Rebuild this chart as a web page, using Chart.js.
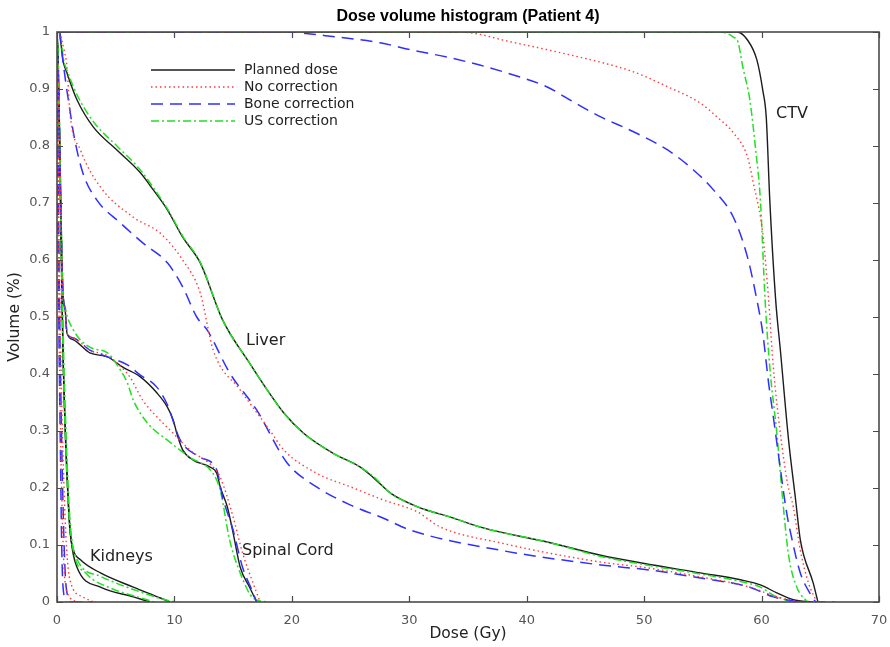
<!DOCTYPE html>
<html>
<head>
<meta charset="utf-8">
<title>Dose volume histogram (Patient 4)</title>
<script src="https://cdn.jsdelivr.net/npm/chart.js@4"></script>
<style>
  html, body { margin: 0; padding: 0; background: #fff; }
  canvas { display: block; }
</style>
</head>
<body>
<canvas id="dvh" width="890" height="647"></canvas>
<script>
// Dose volume histogram, patient 4
// valores: [dosis (Gy), volumen]

const xTicks = [0, 10, 20, 30, 40, 50, 60, 70];
const yTicks = [0, 0.1, 0.2, 0.3, 0.4, 0.5, 0.6, 0.7, 0.8, 0.9, 1];
const methods = ["Planned dose", "No correction", "Bone correction", "US correction"];
const organLabels = ["CTV", "Liver", "Spinal Cord", "Kidneys"];

// CTV
const ctvPlanned = [[0,1],[57.9,1],[58.8,0.986],[59.6,0.951],[60.1,0.898],[60.4,0.85],[60.7,0.705],[61.2,0.53],[61.6,0.442],[62.3,0.284],[62.9,0.179],[63.3,0.109],[64.4,0.033],[64.8,0]];
const ctvNoCorr = [[0,1],[34.3,1],[38.8,0.982],[44.5,0.956],[46.3,0.947],[49.1,0.93],[52.0,0.904],[54.8,0.875],[56.2,0.851],[57.6,0.823],[58.8,0.781],[59.3,0.735],[60.1,0.647],[60.6,0.53],[61.0,0.412],[61.6,0.296],[62.2,0.209],[62.7,0.167],[63.3,0.091],[64.0,0.033],[64.7,0]];
const ctvBone = [[0,1],[19.8,1],[21.8,0.996],[27.5,0.981],[30.3,0.968],[33.2,0.956],[36.0,0.942],[38.8,0.925],[41.7,0.904],[44.0,0.877],[46.3,0.851],[49.1,0.825],[52.0,0.793],[54.2,0.758],[55.9,0.723],[57.6,0.675],[58.8,0.605],[59.6,0.53],[60.1,0.472],[60.6,0.384],[61.0,0.325],[61.5,0.249],[62.1,0.161],[62.6,0.109],[63.3,0.051],[64.1,0.016],[64.7,0],[66.2,0]];
const ctvUS = [[0,1],[56.5,1],[57.6,0.991],[58.0,0.982],[58.4,0.939],[59.0,0.881],[59.5,0.793],[59.9,0.705],[60.3,0.53],[60.7,0.412],[61.3,0.296],[61.8,0.179],[62.3,0.082],[63.0,0.026],[63.9,0]];

// Liver
const liverPlanned = [[0.2,1],[0.35,0.977],[0.5,0.951],[0.85,0.928],[1.7,0.881],[3.1,0.833],[5.1,0.793],[7.1,0.753],[8.2,0.723],[9.4,0.688],[10.7,0.64],[12.2,0.595],[14.1,0.495],[16.4,0.419],[17.9,0.372],[19.3,0.332],[21.0,0.296],[23.5,0.261],[25.8,0.237],[26.9,0.219],[28.4,0.191],[30.7,0.167],[33.5,0.149],[36.3,0.13],[42.0,0.104],[46.3,0.082],[49.9,0.068],[54.8,0.051],[58.2,0.039],[59.9,0.03],[61.3,0.016],[62.7,0.004],[64.4,0]];
const liverNoCorr = [[0.25,1],[0.6,0.968],[0.85,0.939],[1.1,0.858],[2.0,0.793],[3.7,0.728],[6.5,0.675],[8.8,0.647],[10.7,0.6],[12.2,0.542],[13.3,0.442],[15.6,0.372],[18.1,0.302],[19.3,0.267],[22.1,0.226],[25.0,0.202],[27.8,0.179],[30.7,0.158],[32.6,0.132],[37.7,0.104],[46.3,0.07],[49.9,0.061],[54.8,0.044],[59.0,0.026],[61.3,0.009],[63.3,0]];
const liverBone = [[0.25,1],[0.5,0.951],[0.75,0.911],[1.1,0.863],[1.4,0.823],[2.2,0.753],[3.4,0.705],[5.4,0.665],[7.3,0.63],[9.4,0.595],[10.7,0.553],[11.9,0.5],[12.8,0.477],[14.7,0.402],[17.0,0.337],[19.6,0.244],[22.1,0.202],[25.0,0.17],[27.8,0.147],[30.1,0.126],[37.7,0.091],[46.3,0.065],[50.5,0.056],[54.8,0.042],[59.0,0.026],[61.0,0.009],[63.3,0]];
const liverUS = [[0.2,1],[0.4,0.977],[0.55,0.953],[0.9,0.93],[1.8,0.886],[3.2,0.84],[5.1,0.8],[7.1,0.758],[8.2,0.727],[9.4,0.69],[10.7,0.642],[12.2,0.596],[14.1,0.495],[16.4,0.419],[17.9,0.372],[19.3,0.332],[21.0,0.296],[23.5,0.261],[25.8,0.237],[26.9,0.221],[28.4,0.191],[30.7,0.167],[33.5,0.149],[36.3,0.13],[42.0,0.104],[46.3,0.08],[49.9,0.066],[54.8,0.049],[58.2,0.036],[59.9,0.026],[61.0,0.012],[62.5,0]];

// Spinal cord
const cordPlanned = [[0,1],[0.1,0.93],[0.2,0.846],[0.35,0.67],[0.5,0.547],[0.7,0.512],[0.85,0.472],[1.4,0.46],[2.8,0.437],[4.3,0.43],[5.6,0.412],[7.1,0.395],[8.5,0.367],[9.4,0.342],[9.9,0.319],[10.2,0.296],[10.7,0.267],[11.6,0.249],[13.0,0.237],[13.6,0.226],[13.9,0.202],[14.5,0.167],[15.0,0.121],[15.6,0.061],[16.4,0.026],[17.0,0]];
const cordNoCorr = [[0,1],[0.1,0.92],[0.2,0.84],[0.35,0.66],[0.5,0.545],[0.7,0.51],[0.9,0.47],[1.4,0.463],[2.8,0.442],[4.3,0.432],[5.1,0.419],[6.2,0.395],[7.3,0.354],[8.5,0.325],[9.9,0.296],[11.3,0.267],[13.3,0.237],[13.9,0.219],[15.0,0.149],[15.8,0.086],[16.7,0.033],[17.3,0]];
const cordBone = [[0,1],[0.1,0.92],[0.2,0.84],[0.35,0.665],[0.5,0.545],[0.7,0.51],[0.85,0.472],[1.4,0.463],[2.8,0.442],[4.3,0.43],[6.0,0.416],[7.1,0.398],[8.5,0.377],[9.4,0.346],[10.5,0.284],[12.2,0.254],[13.6,0.232],[14.1,0.184],[15.0,0.126],[15.8,0.061],[16.7,0.016],[17.0,0]];
const cordUS = [[0,1],[0.1,0.93],[0.2,0.846],[0.35,0.67],[0.5,0.55],[0.75,0.512],[1.4,0.477],[2.8,0.447],[4.3,0.437],[5.4,0.407],[6.0,0.384],[6.5,0.354],[7.7,0.314],[9.4,0.284],[11.3,0.254],[13.3,0.225],[13.9,0.196],[14.7,0.109],[15.6,0.051],[16.7,0.007],[17.9,0]];

// Kidneys (dos curvas por metodo)
const kidneyAPlanned = [[0,1],[0.1,0.95],[0.3,0.7],[0.5,0.45],[0.75,0.28],[0.95,0.18],[1.1,0.126],[1.4,0.091],[2.0,0.074],[3.7,0.051],[6.5,0.026],[8.8,0.007],[9.6,0]];
const kidneyBPlanned = [[0,1],[0.1,0.95],[0.3,0.7],[0.5,0.45],[0.75,0.27],[0.95,0.18],[1.2,0.109],[1.7,0.061],[3.7,0.026],[6.5,0.009],[7.9,0]];
const kidneyANoCorr = [[0,1],[0.05,0.9],[0.2,0.6],[0.4,0.35],[0.6,0.2],[0.8,0.1],[1.1,0.039],[2.2,0.009],[3.1,0]];
const kidneyBNoCorr = [[0,1],[0.05,0.9],[0.15,0.55],[0.3,0.3],[0.45,0.15],[0.6,0.06],[0.9,0.015],[1.8,0]];
const kidneyABone = [[0,1],[0.05,0.9],[0.2,0.55],[0.4,0.28],[0.55,0.14],[0.7,0.05],[0.85,0.016],[1.3,0],[3.0,0]];
const kidneyBBone = [[0,1],[0.03,0.8],[0.15,0.5],[0.3,0.25],[0.4,0.1],[0.5,0.03],[0.8,0]];
const kidneyAUS = [[0,1],[0.1,0.95],[0.3,0.72],[0.55,0.45],[0.8,0.28],[1.0,0.18],[1.2,0.12],[1.7,0.075],[3.7,0.045],[6.5,0.022],[9.4,0.003],[10.3,0]];
const kidneyBUS = [[0,1],[0.1,0.95],[0.3,0.7],[0.5,0.45],[0.75,0.27],[1.0,0.16],[1.4,0.09],[2.5,0.05],[4.5,0.025],[7.0,0.008],[8.3,0]];

// estilos por metodo (estilo matlab)
const styles = [
  { color: "#1c1c1c", dash: [],           width: 1.4 },
  { color: "#ff3b3b", dash: [1.5, 3],     width: 1.4 },
  { color: "#2f2fff", dash: [12, 7],      width: 1.5 },
  { color: "#22e022", dash: [8, 3, 2, 3], width: 1.5 }
];

const seriesByMethod = [
  [ctvPlanned, liverPlanned, cordPlanned, kidneyAPlanned, kidneyBPlanned],
  [ctvNoCorr, liverNoCorr, cordNoCorr, kidneyANoCorr, kidneyBNoCorr],
  [ctvBone, liverBone, cordBone, kidneyABone, kidneyBBone],
  [ctvUS, liverUS, cordUS, kidneyAUS, kidneyBUS]
];

function toPoints(arr){
  return arr.map(p => ({ x: p[0], y: p[1] }));
}

// armar datasets: el planned se dibuja al final para quedar encima
const datasets = [];
[1, 2, 3, 0].forEach(m => {
  seriesByMethod[m].forEach((s, i) => {
    datasets.push({
      label: methods[m] + " " + i,
      data: toPoints(s),
      borderColor: styles[m].color,
      borderDash: styles[m].dash,
      borderWidth: styles[m].width,
      pointRadius: 0,
      fill: false,
      cubicInterpolationMode: "monotone"
    });
  });
});

const FONT = "'DejaVu Sans', Verdana, sans-serif";

// marco, ticks hacia adentro, leyenda y textos
const decorPlugin = {
  id: "decor",
  afterDraw(chart){
    const { ctx, chartArea: a, scales } = chart;
    const x = scales.x, y = scales.y;
    ctx.save();

    ctx.strokeStyle = "#4a4a4a";
    ctx.lineWidth = 1.6;
    ctx.strokeRect(a.left, a.top, a.right - a.left, a.bottom - a.top);

    ctx.lineWidth = 1.2;
    ctx.beginPath();
    xTicks.forEach(v => {
      const px = Math.round(x.getPixelForValue(v)) + 0.5;
      ctx.moveTo(px, a.bottom); ctx.lineTo(px, a.bottom - 6);
      ctx.moveTo(px, a.top); ctx.lineTo(px, a.top + 6);
    });
    yTicks.forEach(v => {
      const py = Math.round(y.getPixelForValue(v)) + 0.5;
      ctx.moveTo(a.left, py); ctx.lineTo(a.left + 6, py);
      ctx.moveTo(a.right, py); ctx.lineTo(a.right - 6, py);
    });
    ctx.stroke();

    // leyenda
    ctx.font = "14px " + FONT;
    ctx.textBaseline = "middle";
    ctx.textAlign = "left";
    methods.forEach((name, i) => {
      const ly = 70 + i * 17;
      ctx.strokeStyle = styles[i].color;
      ctx.lineWidth = styles[i].width;
      ctx.setLineDash(styles[i].dash);
      ctx.beginPath();
      ctx.moveTo(151, ly); ctx.lineTo(235, ly);
      ctx.stroke();
      ctx.setLineDash([]);
      ctx.fillStyle = "#222";
      ctx.fillText(name, 244, ly);
    });

    // etiquetas de organos
    ctx.font = "16px " + FONT;
    ctx.fillStyle = "#222";
    ctx.fillText(organLabels[0], 776, 114);
    ctx.fillText(organLabels[1], 246, 341);
    ctx.fillText(organLabels[2], 242, 551);
    ctx.fillText(organLabels[3], 90, 557);

    // titulo y ejes
    ctx.textAlign = "center";
    ctx.font = "bold 16px 'Liberation Sans', Arial, sans-serif";
    ctx.fillStyle = "#000";
    ctx.fillText("Dose volume histogram (Patient 4)", 468, 17);

    ctx.font = "15.5px " + FONT;
    ctx.fillStyle = "#222";
    ctx.fillText("Dose (Gy)", 468, 634);
    ctx.translate(15, 317);
    ctx.rotate(-Math.PI / 2);
    ctx.fillText("Volume (%)", 0, 0);

    ctx.restore();
  }
};

const chart = new Chart(document.getElementById("dvh").getContext("2d"), {
  type: "line",
  data: { datasets },
  options: {
    responsive: false,
    animation: false,
    layout: { padding: { top: 32, right: 11, left: 0, bottom: 0 } },
    plugins: {
      legend: { display: false },
      title: { display: false },
      tooltip: { enabled: false }
    },
    scales: {
      x: {
        type: "linear",
        min: 0, max: 70,
        afterFit(s){ s.height = 45; s.paddingLeft = 0; s.paddingRight = 0; },
        afterBuildTicks(s){ s.ticks = xTicks.map(v => ({ value: v })); },
        grid: { display: false, drawTicks: false },
        border: { display: false },
        ticks: { color: "#555", font: { family: FONT, size: 13 }, padding: 11, maxRotation: 0 }
      },
      y: {
        type: "linear",
        min: 0, max: 1,
        afterFit(s){ s.width = 57; s.paddingTop = 0; s.paddingBottom = 0; },
        afterBuildTicks(s){ s.ticks = yTicks.map(v => ({ value: v })); },
        grid: { display: false, drawTicks: false },
        border: { display: false },
        ticks: {
          color: "#555",
          font: { family: FONT, size: 13 },
          padding: 7,
          callback: v => String(Math.round(v * 10) / 10)
        }
      }
    }
  },
  plugins: [decorPlugin]
});
</script>
</body>
</html>
